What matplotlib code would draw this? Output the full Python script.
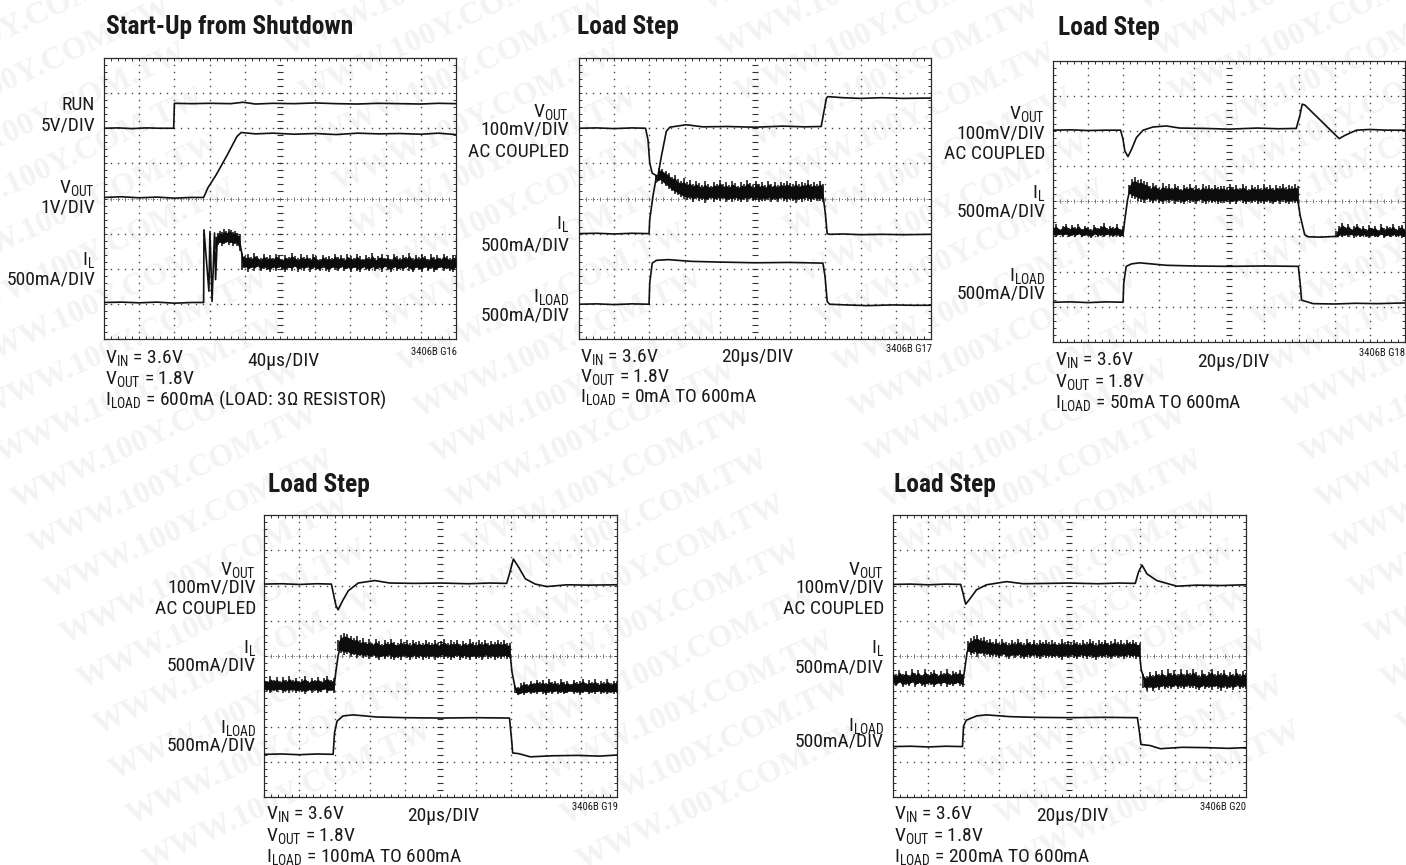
import matplotlib
matplotlib.use('Agg')
import matplotlib.pyplot as plt
from matplotlib import font_manager
import numpy as np

W, H = 1406, 865
narrow = 'Roboto Condensed' in {f.name for f in font_manager.fontManager.ttflist}
text_scale = 1.0 if narrow else 0.92
plt.rcParams['font.family'] = ['Roboto Condensed', 'Liberation Sans', 'DejaVu Sans']
plt.rcParams['mathtext.default'] = 'regular'

# all traces are in scope divisions: x 0..10, y 0..8

# G16 start-up
g16_run_t = [0, 0.4, 0.8, 1.2, 1.6, 1.98, 1.99, 2.0, 2.5, 3.0, 3.6, 3.95, 4.3, 4.8, 5.4, 6.0, 6.6, 7.2, 7.8, 8.4, 9.0, 9.5, 10]
g16_run_v = [6.0, 6.01, 5.99, 6.01, 6.0, 6.0, 6.35, 6.71, 6.7, 6.71, 6.7, 6.74, 6.69, 6.71, 6.7, 6.72, 6.7, 6.69, 6.71, 6.7, 6.69, 6.71, 6.7]
g16_vout_t = [0, 0.5, 1.0, 1.5, 2.0, 2.5, 2.83, 2.95, 3.19, 3.48, 3.78, 3.9, 4.3, 4.8, 5.4, 6.0, 6.6, 7.2, 7.8, 8.4, 9.0, 9.5, 10]
g16_vout_v = [4.03, 4.05, 4.02, 4.04, 4.01, 4.03, 4.03, 4.30, 4.68, 5.2, 5.77, 5.88, 5.84, 5.86, 5.83, 5.85, 5.82, 5.86, 5.84, 5.85, 5.83, 5.86, 5.82]
g16_il_t = [0, 0.5, 1.0, 1.5, 2.0, 2.5, 2.83, 2.84, 2.98, 3.01, 3.07, 3.14, 3.17, 3.22]
g16_il_v = [1.04, 1.05, 1.03, 1.05, 1.02, 1.04, 1.04, 3.11, 1.36, 3.06, 1.07, 3.02, 1.69, 2.9]
g16_hump_hi = [2.9, 3.02, 3.08, 3.05, 3.12, 3.07, 3.14, 3.1, 3.06, 3.08, 3.02, 3.0]
g16_hump_lo = [2.55, 2.68, 2.72, 2.66, 2.7, 2.74, 2.68, 2.72, 2.66, 2.7, 2.65, 2.5]
g16_il_fall_t = [3.85, 3.92, 3.96, 4.05]
g16_il_fall_v = [2.8, 2.4, 2.15, 2.1]
g16_il_hi = [2.45, 2.36, 2.41, 2.33, 2.44, 2.37, 2.30, 2.42, 2.34, 2.39, 2.31, 2.43, 2.35, 2.29, 2.40, 2.33, 2.44, 2.36, 2.30, 2.41, 2.34, 2.38, 2.31, 2.42, 2.35, 2.28, 2.40, 2.33, 2.37, 2.30, 2.43, 2.34, 2.38, 2.30, 2.41, 2.36, 2.31, 2.42, 2.35, 2.29, 2.39, 2.33, 2.44, 2.30, 2.37, 2.41, 2.32, 2.39, 2.29, 2.43, 2.35, 2.31, 2.40, 2.34, 2.45, 2.30, 2.38, 2.33, 2.42, 2.36, 2.29, 2.41, 2.33, 2.39, 2.31, 2.43, 2.36, 2.30, 2.40, 2.35]
g16_il_lo = [1.96, 2.03, 1.92, 2.01, 1.95, 2.04, 1.93, 2.00, 1.96, 1.90, 2.02, 1.94, 2.03, 1.97, 1.91, 2.01, 1.94, 2.04, 1.92, 1.99, 1.95, 2.03, 1.92, 2.00, 1.96, 1.93, 2.02, 1.95, 1.91, 2.01, 1.97, 1.93, 2.03, 1.94, 1.99, 1.92, 2.02, 1.95, 1.90, 2.03, 1.96, 1.93, 2.01, 1.94, 2.00, 1.92, 2.04, 1.96, 1.91, 2.02, 1.94, 1.99, 1.93, 2.03, 1.95, 1.90, 2.01, 1.96, 1.92, 2.03, 1.94, 2.00, 1.91, 1.97, 2.02, 1.93, 1.99, 1.95, 1.91, 2.01]

# G17 0mA to 600mA
g17_vout_t = [0, 0.5, 1.0, 1.5, 1.89, 1.96, 2.01, 2.08, 2.24, 2.34, 2.48, 2.58, 3.05, 3.52, 4.2, 5.0, 5.8, 6.4, 6.88, 7.03, 7.07, 7.5, 8.0, 8.6, 9.2, 10]
g17_vout_v = [6.0, 6.01, 5.99, 6.01, 6.0, 5.67, 5.01, 4.72, 4.63, 5.2, 5.91, 6.03, 6.1, 6.04, 6.05, 6.03, 6.06, 6.04, 6.05, 6.86, 6.9, 6.87, 6.85, 6.87, 6.85, 6.86]
g17_il_t = [0, 0.5, 1.0, 1.5, 1.99, 2.01, 2.1, 2.2]
g17_il_v = [3.0, 3.01, 2.99, 3.01, 3.0, 3.4, 4.06, 4.63]
g17_il_hi = [4.63, 4.87, 4.84, 4.78, 4.74, 4.62, 4.66, 4.55, 4.5, 4.57, 4.46, 4.52, 4.42, 4.5, 4.44, 4.38, 4.49, 4.41, 4.37, 4.47, 4.42, 4.53, 4.4, 4.46, 4.38, 4.5, 4.43, 4.37, 4.47, 4.41, 4.53, 4.44, 4.38, 4.49, 4.42, 4.46, 4.38, 4.5, 4.41, 4.47, 4.39, 4.48, 4.43, 4.5, 4.44, 4.41, 4.51, 4.4, 4.47, 4.43, 4.52, 4.41, 4.46, 4.42, 4.5, 4.42]
g17_il_lo = [4.45, 4.5, 4.42, 4.35, 4.28, 4.2, 4.14, 4.1, 4.04, 4.0, 3.95, 3.98, 3.9, 3.98, 3.92, 3.97, 3.88, 3.95, 3.99, 3.9, 3.96, 3.92, 3.98, 3.89, 3.95, 3.91, 3.97, 3.93, 3.89, 3.96, 3.91, 3.98, 3.92, 3.95, 3.9, 3.94, 3.92, 3.97, 3.89, 3.95, 3.91, 3.98, 3.93, 3.9, 3.96, 3.92, 3.88, 3.95, 3.91, 3.97, 3.93, 3.9, 3.96, 3.92, 3.94, 3.9]
g17_il_fall_t = [6.93, 7.0, 7.05, 7.12, 7.5, 8.0, 8.6, 9.2, 10]
g17_il_fall_v = [4.1, 3.56, 3.0, 2.98, 2.99, 2.97, 2.98, 2.97, 2.98]
g17_iload_t = [0, 0.5, 1.0, 1.5, 1.99, 2.01, 2.08, 2.2, 2.53, 3.2, 4.0, 5.0, 6.0, 6.93, 6.99, 7.05, 7.12, 7.6, 8.2, 8.9, 9.5, 10]
g17_iload_v = [0.99, 1.0, 0.98, 1.0, 0.99, 1.6, 2.16, 2.24, 2.26, 2.21, 2.19, 2.17, 2.18, 2.16, 1.78, 1.07, 0.99, 0.97, 0.95, 0.97, 0.96, 0.96]

# G18 50mA to 600mA
g18_vout_t = [0, 0.5, 1.0, 1.5, 1.92, 1.99, 2.04, 2.13, 2.23, 2.37, 2.56, 2.84, 3.22, 3.6, 4.3, 5.0, 5.8, 6.4, 6.91, 7.01, 7.08, 7.16, 8.13, 8.29, 8.62, 9.0, 9.5, 10]
g18_vout_v = [6.02, 6.03, 6.01, 6.02, 6.02, 5.76, 5.43, 5.27, 5.47, 5.81, 6.02, 6.11, 6.14, 6.08, 6.07, 6.05, 6.08, 6.06, 6.07, 6.42, 6.76, 6.73, 5.78, 5.87, 6.02, 6.04, 6.02, 6.02]
g18_il_a_hi = [3.28, 3.34, 3.22, 3.3, 3.36, 3.24, 3.32, 3.26, 3.35, 3.22, 3.31, 3.27, 3.2, 3.33, 3.25, 3.31, 3.37, 3.23, 3.3, 3.27, 3.34, 3.22, 3.29]
g18_il_a_lo = [3.02, 2.98, 3.04, 2.99, 3.03, 2.97, 3.02, 2.99, 3.04, 2.98, 3.01, 3.0, 2.96, 3.03, 2.99, 3.02, 2.97, 3.04, 3.0, 2.98, 3.02, 2.97, 3.01]
g18_il_rise_t = [1.99, 2.05, 2.12, 2.2]
g18_il_rise_v = [3.05, 3.55, 4.05, 4.4]
g18_il_b_hi = [4.45, 4.62, 4.68, 4.6, 4.64, 4.57, 4.55, 4.42, 4.53, 4.46, 4.39, 4.51, 4.42, 4.48, 4.38, 4.5, 4.43, 4.36, 4.47, 4.41, 4.49, 4.39, 4.45, 4.37, 4.48, 4.42, 4.46, 4.39, 4.47, 4.41, 4.44, 4.43, 4.37, 4.48, 4.4, 4.46, 4.38, 4.49, 4.42, 4.36, 4.47, 4.4, 4.45, 4.38, 4.48, 4.41, 4.46, 4.39, 4.47, 4.42, 4.49, 4.4, 4.46, 4.43, 4.48, 4.42]
g18_il_b_lo = [4.2, 4.1, 4.06, 4.02, 3.98, 3.95, 4.03, 3.97, 3.94, 4.01, 3.96, 3.92, 4.0, 3.95, 4.02, 3.93, 3.98, 3.96, 3.91, 4.0, 3.95, 3.98, 3.93, 4.01, 3.96, 3.92, 3.99, 3.94, 3.97, 3.93, 3.96, 3.94, 3.99, 3.92, 3.97, 3.93, 4.0, 3.95, 3.91, 3.98, 3.94, 3.99, 3.93, 3.96, 3.92, 3.98, 3.94, 3.91, 3.97, 3.93, 3.99, 3.95, 3.92, 3.97, 3.94, 3.96]
g18_il_fall_t = [6.96, 7.02, 7.15, 7.25, 7.6, 8.0, 8.1]
g18_il_fall_v = [4.0, 3.6, 3.05, 2.99, 2.98, 3.0, 3.0]
g18_il_c_hi = [3.15, 3.3, 3.39, 3.28, 3.36, 3.22, 3.31, 3.36, 3.24, 3.3, 3.2, 3.33, 3.25, 3.3, 3.18, 3.34, 3.23, 3.31, 3.26, 3.35, 3.21, 3.29, 3.33, 3.18]
g18_il_c_lo = [2.98, 3.0, 2.97, 3.02, 2.98, 3.03, 2.96, 3.01, 2.97, 3.02, 2.98, 2.96, 3.01, 2.97, 2.99, 3.03, 2.96, 3.0, 2.97, 3.02, 2.98, 3.01, 2.96, 2.99]
g18_iload_t = [0, 0.5, 1.0, 1.5, 1.99, 2.01, 2.08, 2.23, 2.46, 3.22, 4.0, 5.0, 6.0, 6.97, 7.03, 7.06, 7.39, 8.0, 8.6, 9.2, 10]
g18_iload_v = [1.13, 1.14, 1.12, 1.14, 1.13, 1.68, 2.15, 2.22, 2.25, 2.18, 2.16, 2.15, 2.16, 2.15, 1.58, 1.19, 1.09, 1.08, 1.1, 1.09, 1.11]

# G19 100mA to 600mA
g19_vout_t = [0, 0.5, 1.0, 1.5, 1.91, 1.98, 2.04, 2.1, 2.23, 2.39, 2.67, 3.14, 3.57, 4.3, 5.0, 5.8, 6.4, 6.88, 6.96, 7.07, 7.22, 7.41, 7.69, 8.02, 8.59, 9.2, 10]
g19_vout_v = [6.04, 6.05, 6.03, 6.05, 6.04, 5.71, 5.43, 5.31, 5.57, 5.85, 6.07, 6.14, 6.07, 6.06, 6.07, 6.05, 6.07, 6.06, 6.33, 6.75, 6.52, 6.19, 6.04, 5.97, 6.02, 6.01, 6.02]
g19_il_a_hi = [3.38, 3.3, 3.42, 3.33, 3.4, 3.28, 3.41, 3.32, 3.43, 3.31, 3.39, 3.3, 3.36, 3.42, 3.29, 3.38, 3.33, 3.41, 3.3, 3.37, 3.43, 3.32, 3.38]
g19_il_a_lo = [2.98, 3.02, 2.95, 3.01, 2.97, 3.03, 2.94, 3.0, 2.96, 3.02, 2.95, 3.0, 2.97, 2.93, 3.01, 2.96, 3.02, 2.94, 2.99, 3.03, 2.95, 3.0, 2.96]
g19_il_rise_t = [1.98, 2.03, 2.1, 2.18]
g19_il_rise_v = [3.05, 3.5, 4.0, 4.35]
g19_il_b_hi = [4.45, 4.6, 4.66, 4.62, 4.58, 4.52, 4.56, 4.44, 4.5, 4.41, 4.47, 4.38, 4.49, 4.42, 4.35, 4.46, 4.39, 4.48, 4.41, 4.37, 4.47, 4.4, 4.44, 4.36, 4.46, 4.39, 4.43, 4.37, 4.45, 4.4, 4.38, 4.46, 4.36, 4.42, 4.47, 4.37, 4.44, 4.4, 4.46, 4.35, 4.43, 4.38, 4.47, 4.41, 4.36, 4.45, 4.39, 4.46, 4.37, 4.43, 4.4, 4.45, 4.39, 4.44, 4.38, 4.36]
g19_il_b_lo = [4.15, 4.08, 4.02, 4.06, 3.96, 4.02, 3.94, 3.99, 3.93, 3.98, 3.91, 3.97, 3.93, 3.89, 3.96, 3.91, 3.98, 3.92, 3.88, 3.95, 3.9, 3.97, 3.93, 3.89, 3.96, 3.91, 3.95, 3.9, 3.94, 3.91, 3.96, 3.89, 3.94, 3.98, 3.91, 3.95, 3.89, 3.93, 3.97, 3.9, 3.95, 3.92, 3.88, 3.96, 3.91, 3.94, 3.89, 3.97, 3.92, 3.95, 3.9, 3.94, 3.91, 3.96, 3.92, 3.93]
g19_il_fall_t = [6.98, 7.03, 7.12, 7.18]
g19_il_fall_v = [4.05, 3.55, 3.1, 3.0]
g19_il_c_hi = [3.15, 3.12, 3.22, 3.27, 3.2, 3.3, 3.24, 3.33, 3.26, 3.31, 3.23, 3.34, 3.27, 3.3, 3.22, 3.35, 3.25, 3.3, 3.21, 3.33, 3.26, 3.29, 3.36, 3.24, 3.31, 3.27, 3.34, 3.22, 3.3, 3.26, 3.35, 3.23, 3.3, 3.28]
g19_il_c_lo = [2.95, 2.88, 2.93, 2.9, 2.96, 2.91, 2.95, 2.92, 2.97, 2.93, 2.9, 2.96, 2.92, 2.97, 2.93, 2.95, 2.91, 2.94, 2.98, 2.92, 2.96, 2.9, 2.94, 2.97, 2.91, 2.95, 2.93, 2.98, 2.92, 2.96, 2.91, 2.95, 2.93, 2.96]
g19_iload_t = [0, 0.5, 1.0, 1.5, 1.96, 2.0, 2.07, 2.24, 2.53, 3.19, 4.0, 5.0, 6.0, 6.96, 7.02, 7.05, 7.22, 7.55, 8.2, 8.9, 9.5, 10]
g19_iload_v = [1.21, 1.22, 1.2, 1.22, 1.21, 1.82, 2.15, 2.3, 2.33, 2.27, 2.25, 2.24, 2.25, 2.24, 1.63, 1.25, 1.23, 1.14, 1.17, 1.18, 1.16, 1.19]

# G20 200mA to 600mA
g20_vout_t = [0, 0.5, 1.0, 1.5, 1.92, 1.99, 2.06, 2.18, 2.37, 2.65, 3.22, 3.69, 4.4, 5.0, 5.8, 6.4, 6.87, 6.96, 7.06, 7.2, 7.48, 8.05, 8.6, 9.3, 10]
g20_vout_v = [6.03, 6.04, 6.02, 6.04, 6.03, 5.76, 5.47, 5.62, 5.88, 6.02, 6.11, 6.05, 6.06, 6.07, 6.05, 6.07, 6.06, 6.38, 6.58, 6.33, 6.14, 5.98, 6.01, 6.0, 6.02]
g20_il_a_hi = [3.56, 3.48, 3.6, 3.5, 3.58, 3.46, 3.62, 3.52, 3.59, 3.47, 3.64, 3.5, 3.55, 3.61, 3.48, 3.57, 3.52, 3.63, 3.49, 3.58, 3.54, 3.6, 3.5]
g20_il_a_lo = [3.2, 3.14, 3.22, 3.12, 3.19, 3.15, 3.23, 3.13, 3.2, 3.16, 3.12, 3.21, 3.17, 3.11, 3.2, 3.15, 3.22, 3.13, 3.19, 3.14, 3.21, 3.16, 3.13]
g20_il_rise_t = [1.98, 2.03, 2.1, 2.18]
g20_il_rise_v = [3.25, 3.6, 4.1, 4.35]
g20_il_b_hi = [4.42, 4.5, 4.56, 4.59, 4.5, 4.54, 4.44, 4.49, 4.4, 4.47, 4.38, 4.48, 4.41, 4.36, 4.46, 4.39, 4.48, 4.41, 4.37, 4.47, 4.4, 4.44, 4.36, 4.46, 4.41, 4.45, 4.39, 4.44, 4.41, 4.38, 4.47, 4.4, 4.43, 4.36, 4.46, 4.41, 4.37, 4.45, 4.39, 4.47, 4.42, 4.36, 4.44, 4.4, 4.46, 4.38, 4.43, 4.47, 4.4, 4.44, 4.38, 4.46, 4.41, 4.45, 4.4, 4.38]
g20_il_b_lo = [4.1, 4.02, 4.07, 3.98, 4.05, 3.99, 4.03, 3.96, 4.01, 3.97, 3.94, 4.0, 3.96, 3.92, 3.99, 3.94, 3.99, 3.95, 3.91, 3.98, 3.93, 3.99, 3.95, 3.92, 3.98, 3.94, 3.97, 3.93, 3.96, 3.94, 3.9, 3.97, 3.93, 3.99, 3.94, 3.91, 3.98, 3.95, 3.92, 3.97, 3.93, 3.9, 3.96, 3.93, 3.98, 3.94, 3.91, 3.97, 3.93, 3.96, 3.92, 3.98, 3.94, 3.96, 3.92, 3.94]
g20_il_fall_t = [6.99, 7.04, 7.12]
g20_il_fall_v = [4.05, 3.6, 3.35]
g20_il_c_hi = [3.5, 3.42, 3.55, 3.46, 3.58, 3.5, 3.6, 3.47, 3.62, 3.52, 3.59, 3.48, 3.63, 3.5, 3.6, 3.52, 3.62, 3.54, 3.46, 3.6, 3.5, 3.56, 3.63, 3.48, 3.58, 3.52, 3.61, 3.47, 3.56, 3.5, 3.62, 3.48, 3.57, 3.52]
g20_il_c_lo = [3.08, 3.02, 3.1, 3.0, 3.08, 3.04, 3.11, 3.06, 3.1, 3.05, 3.12, 3.07, 3.1, 3.05, 3.12, 3.08, 3.1, 3.07, 3.03, 3.11, 3.06, 3.09, 3.04, 3.12, 3.07, 3.02, 3.1, 3.05, 3.09, 3.04, 3.11, 3.06, 3.09, 3.07]
g20_iload_t = [0, 0.5, 1.0, 1.5, 1.97, 2.0, 2.08, 2.37, 2.65, 3.31, 4.0, 5.0, 6.0, 6.93, 6.99, 7.03, 7.29, 7.58, 8.2, 8.9, 9.5, 10]
g20_iload_v = [1.43, 1.44, 1.42, 1.44, 1.43, 2.01, 2.18, 2.3, 2.33, 2.28, 2.26, 2.25, 2.26, 2.25, 1.82, 1.49, 1.46, 1.37, 1.41, 1.4, 1.38, 1.4]


def px_axes(fig, left, top, right, bottom):
    return fig.add_axes([left / W, 1 - bottom / H, (right - left) / W, (bottom - top) / H])


def put(fig, x, y, s, size=14, ha='left', **kw):
    fig.text(x / W, 1 - y / H, s, fontsize=size * text_scale, ha=ha, va='baseline', color='#1a1a1a', **kw)


def scope_axes(fig, box):
    ax = px_axes(fig, *box)
    ax.set_xlim(0, 10)
    ax.set_ylim(0, 8)
    ax.patch.set_alpha(0)
    minor_x = np.arange(0, 10.01, 0.2)
    minor_y = np.arange(0, 8.01, 0.2)
    ax.set_xticks(minor_x)
    ax.set_yticks(minor_y)
    ax.tick_params(direction='in', length=2, width=0.7, top=True, right=True, color='#333333',
                   labelbottom=False, labelleft=False)
    for s in ax.spines.values():
        s.set_linewidth(0.9)
        s.set_color('#2a2a2a')
    dot = dict(ls='none', marker='s', ms=1.0, mew=0, color='#444444', zorder=1)
    for x in [1, 2, 3, 4, 6, 7, 8, 9]:
        ax.plot(np.full_like(minor_y, x), minor_y, **dot)
    for y in [1, 2, 3, 5, 6, 7]:
        ax.plot(minor_x, np.full_like(minor_x, y), **dot)
    # centre cross of the scope graticule
    ax.plot(np.full_like(minor_y, 5), minor_y, ls='none', marker='_', ms=4.5, mew=0.8, color='#333333', zorder=1)
    ax.plot(minor_x, np.full_like(minor_x, 4), ls='none', marker='|', ms=3.5, mew=0.6, color='#666666', zorder=1)
    ax.plot([0, 10], [4, 4], ls=(0, (1, 2)), lw=0.7, color='#666666', zorder=1)
    return ax


def trace(ax, t, v):
    ax.plot(t, v, color='#111111', lw=1.2, zorder=3, solid_joinstyle='round')


def band(ax, t0, t1, hi, lo):
    # ripple trace: solid core with a spike at every read sample
    t = np.linspace(t0, t1, len(hi))
    hi = np.array(hi)
    lo = np.array(lo)
    ax.fill_between(t, lo + 0.14 * (hi - lo), hi - 0.14 * (hi - lo), color='#0c0c0c', lw=0, zorder=3)
    ax.vlines(t, lo, hi, color='#0c0c0c', lw=1.1, zorder=3)


def notes(fig, title, tx, ty, lines, lx, lys, speed, sx, sy, code, cx, cy):
    put(fig, tx, ty, title, size=18.4, fontweight='bold')
    for s, y in zip(lines, lys):
        put(fig, lx, y, s)
    put(fig, sx, sy, speed)
    put(fig, cx, cy, code, size=7.7, ha='right')


def side(fig, x, items):
    for s, y in items:
        put(fig, x, y, s, ha='right')


fig = plt.figure(figsize=(W / 100, H / 100), dpi=100, facecolor='white')

# watermark tiles
for col in range(-1, 4):
    for row in range(-9, 12):
        x = -32 + col * 434.5 + row * 16.3
        y = 373 + row * 45.2
        fig.text(x / W, 1 - y / H, 'WWW.100Y.COM.TW', fontsize=23, family='Liberation Serif', fontweight='bold',
                 color='#f3f3f3', rotation=25, rotation_mode='anchor', ha='left', va='baseline', zorder=-5)

VOUT = 'V$_{OUT}$'
IL = 'I$_{L}$'
ILOAD = 'I$_{LOAD}$'
VIN_LINE = 'V$_{IN}$ = 3.6V'
VOUT_LINE = 'V$_{OUT}$ = 1.8V'
MADIV = '500mA/DIV'
MVDIV = '100mV/DIV'
AC = 'AC COUPLED'

# G16
ax = scope_axes(fig, (104, 58, 456, 339))
trace(ax, g16_run_t, g16_run_v)
trace(ax, g16_vout_t, g16_vout_v)
trace(ax, g16_il_t, g16_il_v)
band(ax, 3.17, 3.85, g16_hump_hi, g16_hump_lo)
trace(ax, g16_il_fall_t, g16_il_fall_v)
band(ax, 3.92, 10, g16_il_hi, g16_il_lo)
side(fig, 95, [('RUN', 110), ('5V/DIV', 131), (VOUT, 193), ('1V/DIV', 213), (IL, 265), (MADIV, 285)])
notes(fig, 'Start-Up from Shutdown', 106, 34,
      [VIN_LINE, VOUT_LINE, 'I$_{LOAD}$ = 600mA (LOAD: 3Ω RESISTOR)'], 105, [363, 384, 405],
      '40μs/DIV', 247, 366, '3406B G16', 457, 355)

# G17
ax = scope_axes(fig, (579, 58, 931, 339))
trace(ax, g17_vout_t, g17_vout_v)
trace(ax, g17_il_t, g17_il_v)
band(ax, 2.2, 6.93, g17_il_hi, g17_il_lo)
trace(ax, g17_il_fall_t, g17_il_fall_v)
trace(ax, g17_iload_t, g17_iload_v)
side(fig, 569, [(VOUT, 117), (MVDIV, 135), (AC, 157), (IL, 229), (MADIV, 250), (ILOAD, 302), (MADIV, 321)])
notes(fig, 'Load Step', 577, 34,
      [VIN_LINE, VOUT_LINE, 'I$_{LOAD}$ = 0mA TO 600mA'], 580, [362, 382, 402],
      '20μs/DIV', 721, 362, '3406B G17', 932, 352)

# G18
ax = scope_axes(fig, (1053, 60.5, 1405, 342))
trace(ax, g18_vout_t, g18_vout_v)
band(ax, 0, 1.99, g18_il_a_hi, g18_il_a_lo)
trace(ax, g18_il_rise_t, g18_il_rise_v)
band(ax, 2.15, 6.96, g18_il_b_hi, g18_il_b_lo)
trace(ax, g18_il_fall_t, g18_il_fall_v)
band(ax, 8.05, 10, g18_il_c_hi, g18_il_c_lo)
trace(ax, g18_iload_t, g18_iload_v)
side(fig, 1045, [(VOUT, 119), (MVDIV, 138), (AC, 159), (IL, 198), (MADIV, 216), (ILOAD, 281), (MADIV, 299)])
notes(fig, 'Load Step', 1058, 35,
      [VIN_LINE, VOUT_LINE, 'I$_{LOAD}$ = 50mA TO 600mA'], 1055, [365, 387, 408],
      '20μs/DIV', 1197, 367, '3406B G18', 1405, 356)

# G19
ax = scope_axes(fig, (264, 515, 616.7, 797))
trace(ax, g19_vout_t, g19_vout_v)
band(ax, 0, 1.98, g19_il_a_hi, g19_il_a_lo)
trace(ax, g19_il_rise_t, g19_il_rise_v)
band(ax, 2.1, 6.98, g19_il_b_hi, g19_il_b_lo)
trace(ax, g19_il_fall_t, g19_il_fall_v)
band(ax, 7.12, 10, g19_il_c_hi, g19_il_c_lo)
trace(ax, g19_iload_t, g19_iload_v)
side(fig, 256, [(VOUT, 575), (MVDIV, 592), (AC, 614), (IL, 653), (MADIV, 671), (ILOAD, 733), (MADIV, 751)])
notes(fig, 'Load Step', 268, 492,
      [VIN_LINE, VOUT_LINE, 'I$_{LOAD}$ = 100mA TO 600mA'], 266, [819, 841, 862],
      '20μs/DIV', 407, 821, '3406B G19', 618, 810)

# G20
ax = scope_axes(fig, (893, 515, 1245.7, 797))
trace(ax, g20_vout_t, g20_vout_v)
band(ax, 0, 1.98, g20_il_a_hi, g20_il_a_lo)
trace(ax, g20_il_rise_t, g20_il_rise_v)
band(ax, 2.13, 6.99, g20_il_b_hi, g20_il_b_lo)
trace(ax, g20_il_fall_t, g20_il_fall_v)
band(ax, 7.1, 10, g20_il_c_hi, g20_il_c_lo)
trace(ax, g20_iload_t, g20_iload_v)
side(fig, 884, [(VOUT, 575), (MVDIV, 593), (AC, 614), (IL, 653), (MADIV, 672), (ILOAD, 731), (MADIV, 747)])
notes(fig, 'Load Step', 894, 492,
      [VIN_LINE, VOUT_LINE, 'I$_{LOAD}$ = 200mA TO 600mA'], 894, [819, 841, 862],
      '20μs/DIV', 1036, 821, '3406B G20', 1246, 810)

fig.savefig('out.png', dpi=100)
